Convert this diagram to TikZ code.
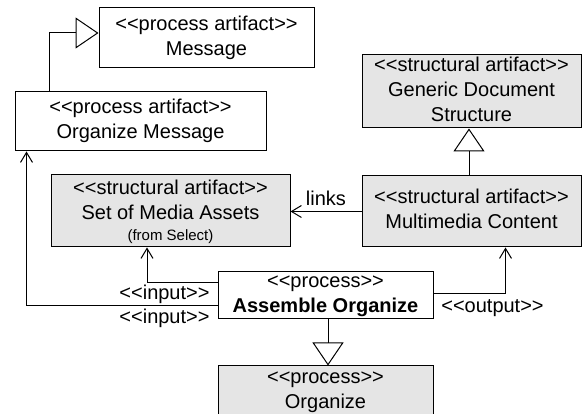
\documentclass[tikz,border=0pt]{standalone}
\usepackage{fontspec}
\setmainfont{Liberation Sans}[Ligatures=TeXOff]
\usetikzlibrary{arrows.meta}
\newcommand\mystrut{\vrule width 0pt height 15.5pt depth 5.5pt}
\begin{document}
\begin{tikzpicture}[x=1pt,y=-1pt,
  box/.style={draw=black, line width=1pt, inner sep=0pt, align=center, fill=white,
              font=\fontsize{20}{25}\selectfont},
  sbox/.style={box, fill=black!10},
  gen/.style={draw=black, line width=1pt, -{Triangle[open, length=23pt, width=31pt]}},
  dep/.style={draw=black, line width=1pt, -{Straight Barb[length=10pt, width=12pt]}},
  lbl/.style={font=\fontsize{20}{25}\selectfont, inner sep=0pt, anchor=base}]
\useasboundingbox (0,0) rectangle (582,414);
% boxes
\node[box, minimum width=215pt, minimum height=60pt] (msg) at (206.5,38)
  {\mystrut<<process artifact>>\\\mystrut Message};
\node[box, minimum width=251pt, minimum height=59pt] (om) at (140.5,121.5)
  {\mystrut<<process artifact>>\\\mystrut Organize Message};
\node[sbox, minimum width=219pt, minimum height=73pt] (gds) at (471.5,91.5)
  {\mystrut<<structural artifact>>\\\mystrut Generic Document\\\mystrut Structure};
\node[sbox, minimum width=219pt, minimum height=71pt] (mc) at (471.5,211.5)
  {\mystrut<<structural artifact>>\\\mystrut Multimedia Content};
\node[sbox, minimum width=239pt, minimum height=72pt] (sma) at (170.5,211)
  {\mystrut<<structural artifact>>\\\mystrut Set of Media Assets\\[-4pt]{\fontsize{15}{19}\selectfont\vrule width 0pt height 11pt depth 1.5pt (from Select)}};
\node[box, minimum width=215pt, minimum height=47pt] (ao) at (325.5,295.5)
  {\mystrut<<process>>\\\mystrut\textbf{Assemble Organize}};
\node[sbox, minimum width=215pt, minimum height=50pt] (org) at (325.5,391)
  {\mystrut<<process>>\\\mystrut Organize};
% labels
\node[lbl] (links) at (326,206) {links};
\node[lbl] (in1) at (164.5,300) {<<input>>};
\node[lbl] (in2) at (164.5,324) {<<input>>};
\node[lbl] (out) at (492.5,312.5) {<<output>>};
% generalizations
\draw[gen] ([xshift=35pt]om.north west) |- ([yshift=5pt]msg.west);
\draw[gen] ([xshift=-2.5pt]mc.north) -- ([xshift=-2.5pt]gds.south);
\draw[gen] ([xshift=2.5pt]ao.south) -- ([xshift=2.5pt]org.north);
% dependencies
\draw[dep] (mc.west) -- (mc.west -| sma.east);
\draw[dep] ([yshift=12.5pt]ao.west) -| ([xshift=-23.5pt]sma.south);
\draw[dep] ([yshift=-10.5pt]ao.west) -| ([xshift=12pt]om.south west);
\draw[dep] ([yshift=1.5pt]ao.east) -| ([xshift=144pt]mc.south west);
\end{tikzpicture}
\end{document}
